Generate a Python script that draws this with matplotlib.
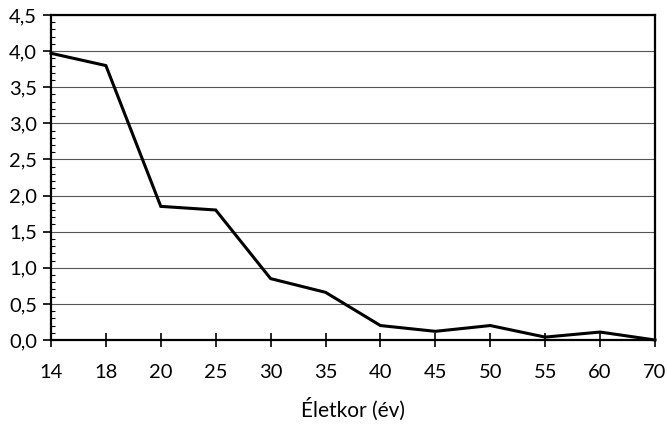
import matplotlib
matplotlib.use("Agg")
import matplotlib.pyplot as plt
from matplotlib.ticker import MultipleLocator, FuncFormatter

ages = ["14", "18", "20", "25", "30", "35", "40", "45", "50", "55", "60", "70"]
values = [3.97, 3.80, 1.85, 1.80, 0.85, 0.66, 0.20, 0.12, 0.20, 0.04, 0.11, 0.0]

plt.rcParams["font.family"] = ["Lato", "DejaVu Sans"]

fig = plt.figure(figsize=(6.68, 4.36), dpi=100)
ax = fig.add_axes([0.0763, 0.2202, 0.9042, 0.7454])

x = list(range(len(ages)))
ax.plot(x, values, color="black", linewidth=2.2, solid_joinstyle="miter", clip_on=False, zorder=3)

ax.set_xlim(0, len(ages) - 1)
ax.set_ylim(0, 4.5)
ax.set_xticks(x)
ax.set_xticklabels(ages)
ax.yaxis.set_major_locator(MultipleLocator(0.5))
ax.yaxis.set_minor_locator(MultipleLocator(0.1))
ax.yaxis.set_major_formatter(FuncFormatter(lambda v, p: f"{v:.1f}".replace(".", ",")))

ax.grid(axis="y", which="major", color="#555555", linewidth=0.8)
ax.set_axisbelow(True)
for s in ax.spines.values():
    s.set_linewidth(1.6)
    s.set_color("black")

ax.tick_params(axis="x", direction="inout", length=10, width=1.2, labelsize=14.5, pad=12)
ax.tick_params(axis="y", which="major", direction="out", length=6, width=1.2, labelsize=14.5, pad=4)
ax.tick_params(axis="y", which="minor", direction="in", length=3, width=0.8)

ax.set_xlabel("Életkor (év)", fontsize=15, labelpad=12)

fig.savefig("out.png", dpi=100)
